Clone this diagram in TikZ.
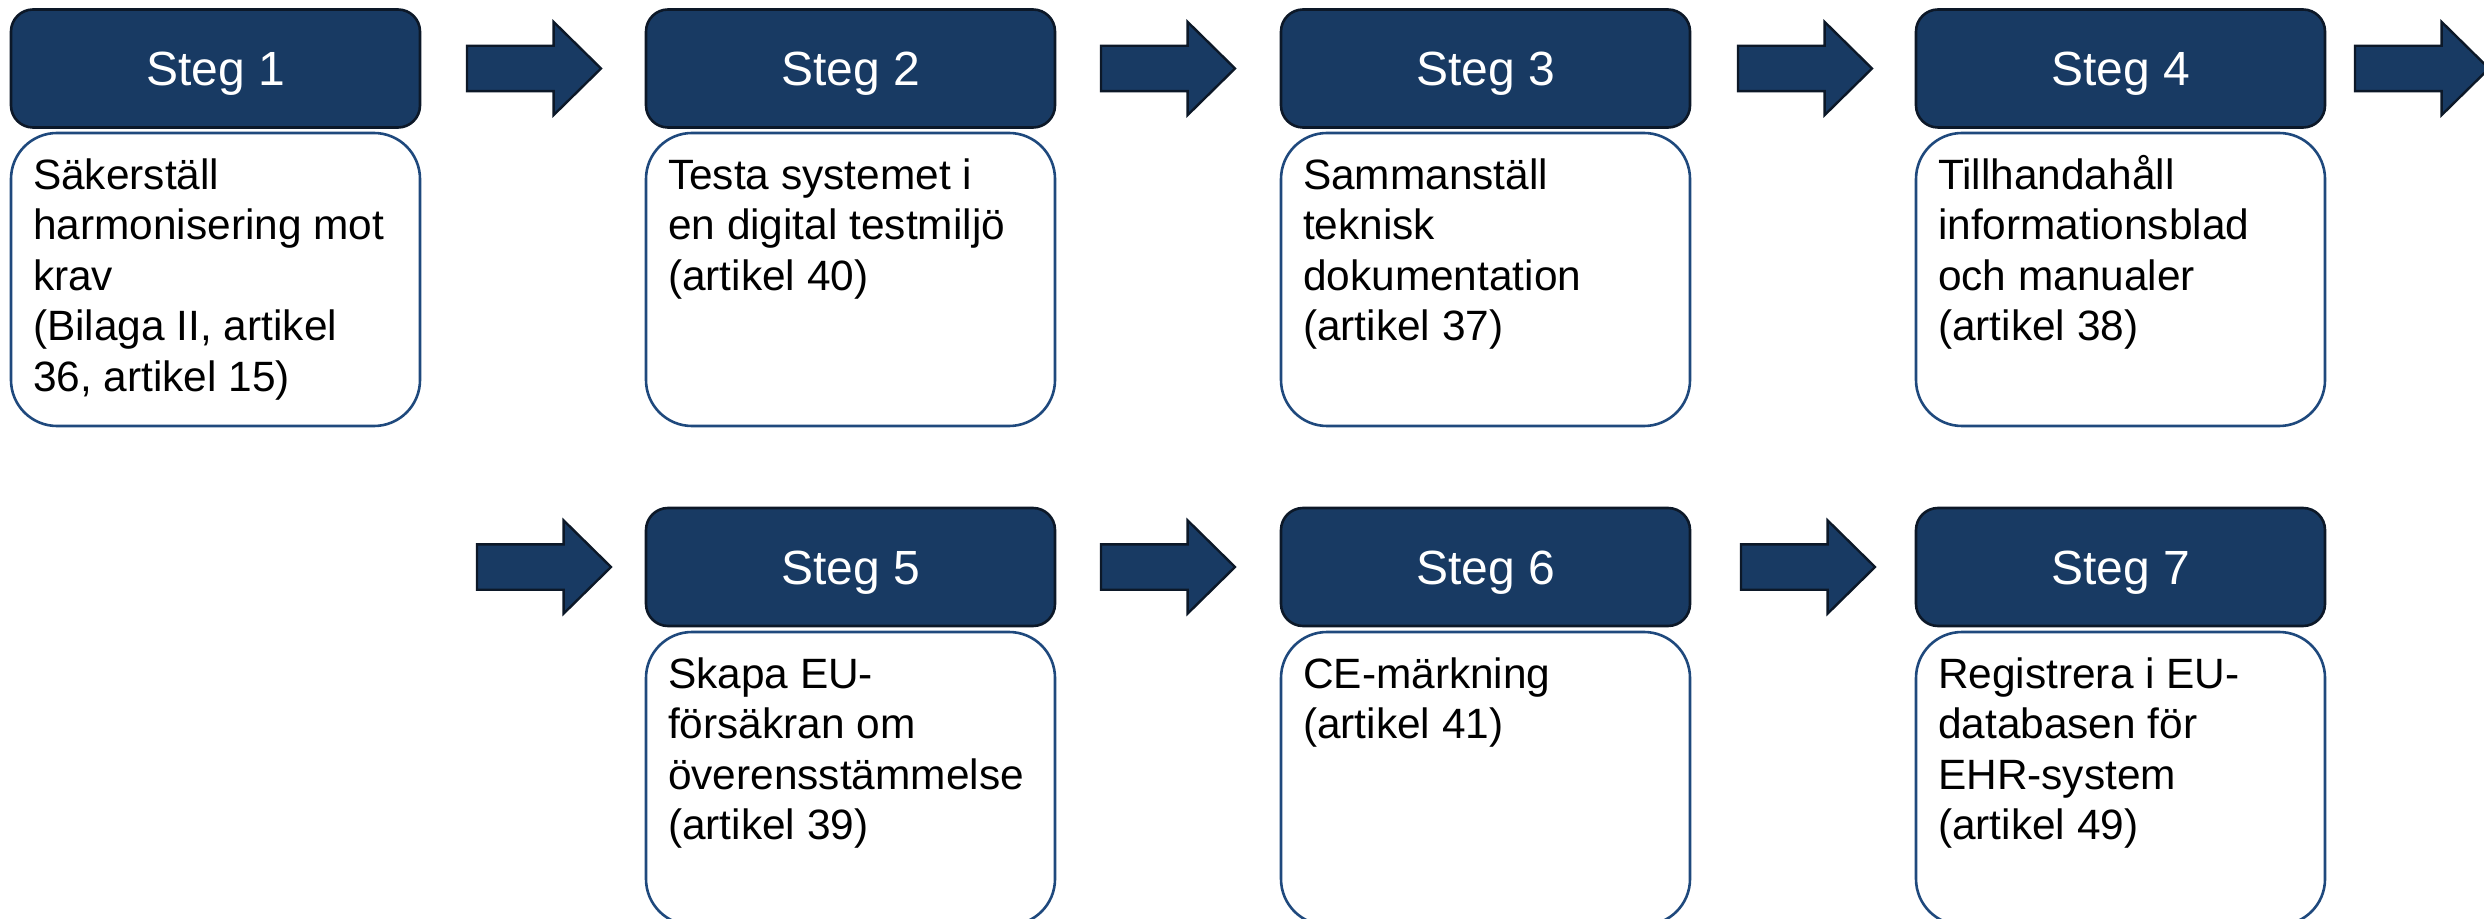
\documentclass[tikz,border=0pt]{standalone}
\usepackage{fontspec}
\setmainfont{Liberation Sans}
\definecolor{navy}{RGB}{24,58,99}
\definecolor{navyline}{RGB}{12,24,40}
\definecolor{boxline}{RGB}{31,73,125}
\begin{document}
\begin{tikzpicture}[x=0.5pt,y=-0.5pt,
 stephead/.style={draw=navyline, line width=1.3pt, fill=navy, rounded corners=11pt, minimum width=204.5pt, minimum height=59pt, inner sep=0pt, text=white, font=\fontsize{24}{29}\selectfont, text height=17.2pt, text depth=0pt},
 stepbody/.style={draw=boxline, line width=1.3pt, fill=white, rounded corners=23pt, minimum width=204.5pt, minimum height=146.5pt, inner sep=0pt},
 bodytext/.style={anchor=north west, inner sep=0pt, align=left, font=\fontsize{21.2}{25.3}\selectfont, text=black},
 arrowshape/.style={draw=navyline, line width=1.2pt, fill=navy, line join=miter},
 blockarrow/.pic={\path[arrowshape] (0,-22.7) -- (86.6,-22.7) -- (86.6,-46.6) -- (134,0) -- (86.6,46.6) -- (86.6,22.7) -- (0,22.7) -- cycle;}
]
\useasboundingbox (0,0) rectangle (2484,919);
\clip (0,0) rectangle (2484,919);

% Row 1
\node[stephead] (h1) at (215.5,68.5) {Steg 1};
\node[stepbody] (b1) at (215.5,279.5) {};
\node[bodytext] (t1) at ([xshift=11.5pt,yshift=-10.5pt]b1.north west) {\rule{0pt}{18pt}Säkerställ\\harmonisering mot\\krav\\(Bilaga II, artikel\\36, artikel 15)};

\node[stephead] (h2) at (850.5,68.5) {Steg 2};
\node[stepbody] (b2) at (850.5,279.5) {};
\node[bodytext] (t2) at ([xshift=11.5pt,yshift=-10.5pt]b2.north west) {\rule{0pt}{18pt}Testa systemet i\\en digital testmiljö\\(artikel 40)};

\node[stephead] (h3) at (1485.5,68.5) {Steg 3};
\node[stepbody] (b3) at (1485.5,279.5) {};
\node[bodytext] (t3) at ([xshift=11.5pt,yshift=-10.5pt]b3.north west) {\rule{0pt}{18pt}Sammanställ\\teknisk\\dokumentation\\(artikel 37)};

\node[stephead] (h4) at (2120.5,68.5) {Steg 4};
\node[stepbody] (b4) at (2120.5,279.5) {};
\node[bodytext] (t4) at ([xshift=11.5pt,yshift=-10.5pt]b4.north west) {\rule{0pt}{18pt}Tillhandahåll\\informationsblad\\och manualer\\(artikel 38)};

\pic at (467,68.5) {blockarrow};
\pic at (1101,68.5) {blockarrow};
\pic at (1738,68.5) {blockarrow};
\pic at (2355,68.5) {blockarrow};

% Row 2
\node[stephead] (h5) at (850.5,567) {Steg 5};
\node[stepbody] (b5) at (850.5,778.5) {};
\node[bodytext] (t5) at ([xshift=11.5pt,yshift=-10.5pt]b5.north west) {\rule{0pt}{18pt}Skapa EU-\\försäkran om\\överensstämmelse\\(artikel 39)};

\node[stephead] (h6) at (1485.5,567) {Steg 6};
\node[stepbody] (b6) at (1485.5,778.5) {};
\node[bodytext] (t6) at ([xshift=11.5pt,yshift=-10.5pt]b6.north west) {\rule{0pt}{18pt}CE-märkning\\(artikel 41)};

\node[stephead] (h7) at (2120.5,567) {Steg 7};
\node[stepbody] (b7) at (2120.5,778.5) {};
\node[bodytext] (t7) at ([xshift=11.5pt,yshift=-10.5pt]b7.north west) {\rule{0pt}{18pt}Registrera i EU-\\databasen för\\EHR-system\\(artikel 49)};

\pic at (477,567) {blockarrow};
\pic at (1101,567) {blockarrow};
\pic at (1741,567) {blockarrow};
\end{tikzpicture}
\end{document}
